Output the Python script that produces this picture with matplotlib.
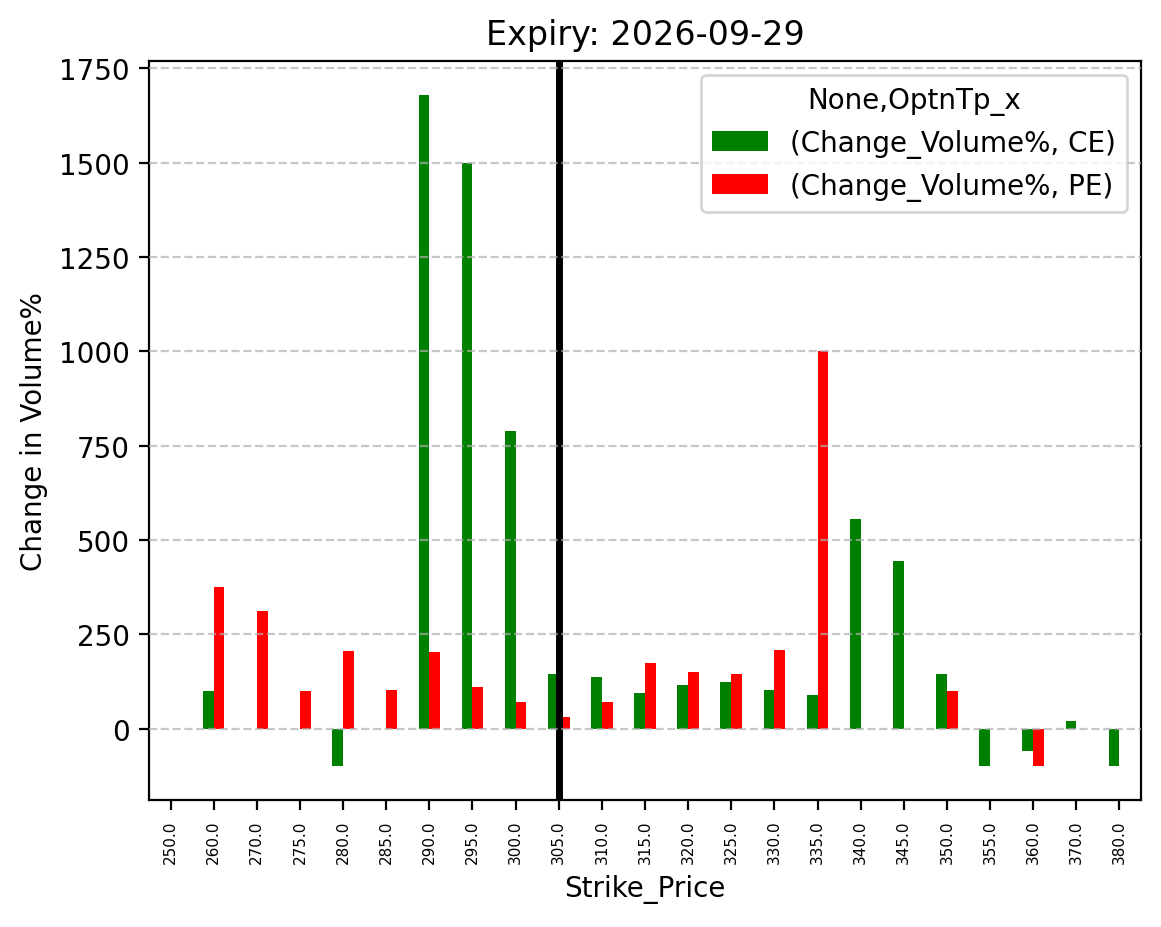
import matplotlib
matplotlib.use("Agg")
import matplotlib.pyplot as plt
import numpy as np

strikes = ["250.0", "260.0", "270.0", "275.0", "280.0", "285.0", "290.0", "295.0",
           "300.0", "305.0", "310.0", "315.0", "320.0", "325.0", "330.0", "335.0",
           "340.0", "345.0", "350.0", "355.0", "360.0", "370.0", "380.0"]
ce_values = [np.nan, 100, np.nan, np.nan, -100, np.nan, 1680, 1500,
             788, 145, 137, 95, 116, 124, 103, 89,
             555, 445, 145, -100, -58, 21, -100]
pe_values = [np.nan, 376, 313, 100, 205, 103, 203, 110,
             71, 32, 71, 174, 150, 145, 208, 1000,
             np.nan, np.nan, 100, np.nan, -100, np.nan, np.nan]
spot_index = 9

W, H, DPI = 1161, 928, 200
fig = plt.figure(figsize=(W / DPI, H / DPI), dpi=DPI)
ax = fig.add_axes([149 / W, (H - 801) / H, 992 / W, 739 / H])

x = np.arange(len(strikes))
width = 0.25
ax.bar(x - width / 2, ce_values, width, color="green", label="(Change_Volume%, CE)")
ax.bar(x + width / 2, pe_values, width, color="red", label="(Change_Volume%, PE)")
ax.set_xlim(-0.5, len(strikes) - 0.5)
ax.set_xticks(x)
ax.set_xticklabels(strikes, rotation=90, fontsize=5.5)
ax.axvline(spot_index, color="black", linewidth=2.5)
ax.grid(axis="y", linestyle="--", alpha=0.7)
ax.set_axisbelow(False)
ax.set_title("Expiry: 2026-09-29")
ax.set_xlabel("Strike_Price")
ax.set_ylabel("Change in Volume%")
ax.legend(title="None,OptnTp_x", loc="upper right")

fig.savefig("out.png", dpi=DPI)
